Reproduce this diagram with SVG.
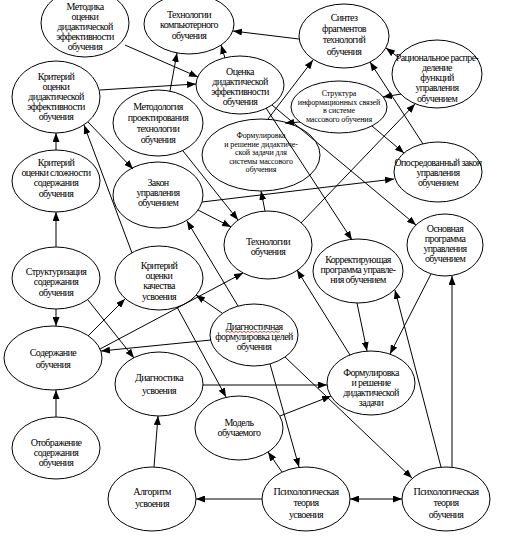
<svg xmlns="http://www.w3.org/2000/svg" width="514" height="538" viewBox="0 0 514 538">
<style>
.n ellipse{fill:#fff;stroke:#000;stroke-width:1}
text{font-family:"Liberation Serif","Times New Roman",serif;font-size:10px;letter-spacing:-0.6px;text-anchor:middle;fill:#000}
.s text{font-size:8px;letter-spacing:-0.1px}
#edges line{stroke:#000;stroke-width:1;marker-end:url(#a)}
</style>
<defs>
<marker id="a" viewBox="0 0 9 7" refX="9" refY="3.5" markerWidth="9" markerHeight="7" markerUnits="userSpaceOnUse" orient="auto-start-reverse"><path d="M0,0 L9,3.5 L0,7 z" fill="#000"/></marker>
</defs>
<rect width="514" height="538" fill="#fff"/>
<g id="n1" class="n"><ellipse cx="85" cy="23" rx="44" ry="34"/><text x="85" y="10">Методика</text><text x="85" y="20">оценки</text><text x="85" y="30">дидактической</text><text x="85" y="40">эффективности</text><text x="85" y="50">обучения</text></g>
<g id="n2" class="n"><ellipse cx="189" cy="24" rx="45" ry="30"/><text x="189" y="18">Технологии</text><text x="189" y="28">компьютерного</text><text x="189" y="39">обучения</text></g>
<g id="n3" class="n"><ellipse cx="344" cy="36" rx="45" ry="32"/><text x="344" y="21">Синтез</text><text x="344" y="32">фрагментов</text><text x="344" y="43">технологий</text><text x="344" y="55">обучения</text></g>
<g id="n4" class="n"><ellipse cx="240" cy="85" rx="44" ry="29"/><text x="240" y="75">Оценка</text><text x="240" y="85">дидактической</text><text x="240" y="95">эффективности</text><text x="240" y="105">обучения</text></g>
<g id="n5" class="n"><ellipse cx="437" cy="74" rx="45" ry="34"/><text x="437" y="61">Рациональное распре-</text><text x="437" y="71">деление</text><text x="437" y="81">функций</text><text x="437" y="91">управления</text><text x="437" y="102">обучением</text></g>
<g id="n6" class="n"><ellipse cx="56" cy="97" rx="44" ry="36"/><text x="56" y="80">Критерий</text><text x="56" y="90">оценки</text><text x="56" y="100">дидактической</text><text x="56" y="110">эффективности</text><text x="56" y="120">обучения</text></g>
<g id="n7" class="n"><ellipse cx="158" cy="123" rx="45" ry="33"/><text x="158" y="110">Методология</text><text x="158" y="121">проектирования</text><text x="158" y="132">технологии</text><text x="158" y="143">обучения</text></g>
<g id="n8" class="n s"><ellipse cx="339" cy="107" rx="48" ry="26"/><text x="339" y="96">Структура</text><text x="339" y="104.5">информационных связей</text><text x="339" y="113">в системе</text><text x="339" y="121.5">массового обучения</text></g>
<g id="n9" class="n s"><ellipse cx="261" cy="155" rx="59" ry="36"/><text x="261" y="138">Формулировка</text><text x="261" y="146.5">и решение дидактиче-</text><text x="261" y="155">ской задачи для</text><text x="261" y="163.5">системы массового</text><text x="261" y="172">обучения</text></g>
<g id="n10" class="n"><ellipse cx="438" cy="172" rx="44" ry="30"/><text x="438" y="166">Опосредованный закон</text><text x="438" y="176">управления</text><text x="438" y="186">обучением</text></g>
<g id="n11" class="n"><ellipse cx="158" cy="195" rx="45" ry="33"/><text x="158" y="186">Закон</text><text x="158" y="196">управления</text><text x="158" y="206">обучением</text></g>
<g id="n12" class="n"><ellipse cx="56" cy="181" rx="44" ry="31"/><text x="56" y="166">Критерий</text><text x="56" y="176">оценки сложности</text><text x="56" y="186">содержания</text><text x="56" y="197">обучения</text></g>
<g id="n13" class="n"><ellipse cx="268" cy="245" rx="44" ry="34"/><text x="268" y="245">Технологии</text><text x="268" y="255">обучения</text></g>
<g id="n14" class="n"><ellipse cx="445" cy="245" rx="38" ry="31"/><text x="445" y="232">Основная</text><text x="445" y="242">программа</text><text x="445" y="252">управления</text><text x="445" y="262">обучением</text></g>
<g id="n15" class="n"><ellipse cx="358" cy="271" rx="45" ry="32"/><text x="358" y="263">Корректирующая</text><text x="358" y="273">программа управле-</text><text x="358" y="283">ния обучением</text></g>
<g id="n16" class="n"><ellipse cx="56" cy="278" rx="44" ry="31"/><text x="56" y="275">Структуризация</text><text x="56" y="285">содержания</text><text x="56" y="296">обучения</text></g>
<g id="n17" class="n"><ellipse cx="159" cy="278" rx="44" ry="32"/><text x="159" y="269">Критерий</text><text x="159" y="279">оценки</text><text x="159" y="289">качества</text><text x="159" y="300">усвоения</text></g>
<g id="n18" class="n"><ellipse cx="53" cy="358" rx="49" ry="32"/><text x="53" y="356">Содержание</text><text x="53" y="368">обучения</text></g>
<g id="n19" class="n"><ellipse cx="159" cy="384" rx="44" ry="32"/><text x="159" y="381">Диагностика</text><text x="159" y="394">усвоения</text></g>
<g id="n20" class="n"><ellipse cx="254" cy="335" rx="44" ry="31"/><text x="254" y="330">Диагностичная</text><path d="M226,332.5 l2,-1.2 l2,1.2 l2,-1.2 l2,1.2 l2,-1.2 l2,1.2 l2,-1.2 l2,1.2 l2,-1.2 l2,1.2 l2,-1.2 l2,1.2 l2,-1.2 l2,1.2 l2,-1.2 l2,1.2 l2,-1.2 l2,1.2 l2,-1.2 l2,1.2 l2,-1.2 l2,1.2 l2,-1.2 l2,1.2 l2,-1.2 l2,1.2 l2,-1.2" fill="none" stroke="#d02020" stroke-width="0.8"/><text x="254" y="340">формулировка целей</text><text x="254" y="350">обучения</text></g>
<g id="n21" class="n"><ellipse cx="371" cy="383" rx="44" ry="32"/><text x="371" y="376">Формулировка</text><text x="371" y="386">и решение</text><text x="371" y="396">дидактической</text><text x="371" y="406">задачи</text></g>
<g id="n22" class="n"><ellipse cx="239" cy="428" rx="44" ry="32"/><text x="239" y="426">Модель</text><text x="239" y="436">обучаемого</text></g>
<g id="n23" class="n"><ellipse cx="56" cy="448" rx="44" ry="31"/><text x="56" y="446">Отображение</text><text x="56" y="456">содержания</text><text x="56" y="466">обучения</text></g>
<g id="n24" class="n"><ellipse cx="152" cy="499" rx="44" ry="32"/><text x="152" y="495">Алгоритм</text><text x="152" y="507">усвоения</text></g>
<g id="n25" class="n"><ellipse cx="306" cy="499" rx="44" ry="32"/><text x="306" y="495">Психологическая</text><text x="306" y="506">теория</text><text x="306" y="518">усвоения</text></g>
<g id="n26" class="n"><ellipse cx="446" cy="499" rx="44" ry="32"/><text x="446" y="495">Психологическая</text><text x="446" y="506">теория</text><text x="446" y="518">обучения</text></g>
<g id="edges">
<line x1="125" y1="45" x2="198" y2="77"/>
<line x1="100" y1="90" x2="196" y2="84"/>
<line x1="225" y1="58" x2="221" y2="45"/>
<line x1="299" y1="39" x2="233" y2="31"/>
<line x1="170" y1="91" x2="177" y2="53"/>
<line x1="398" y1="57" x2="386" y2="48"/>
<line x1="401" y1="94" x2="383" y2="97"/>
<line x1="301" y1="223" x2="415" y2="104"/>
<line x1="423" y1="144" x2="370" y2="62"/>
<line x1="268" y1="119" x2="313" y2="60"/>
<line x1="300" y1="122" x2="285" y2="123"/>
<line x1="372" y1="126" x2="404" y2="153"/>
<line x1="266" y1="108" x2="352" y2="240"/>
<line x1="272" y1="105" x2="416" y2="225"/>
<line x1="56" y1="150" x2="56" y2="133"/>
<line x1="132" y1="253" x2="84" y2="125"/>
<line x1="88" y1="122" x2="133" y2="169"/>
<line x1="183" y1="151" x2="238" y2="220"/>
<line x1="198" y1="210" x2="231" y2="227"/>
<line x1="202" y1="202" x2="394" y2="179"/>
<line x1="265" y1="211" x2="261" y2="191"/>
<line x1="222" y1="313" x2="196" y2="295"/>
<line x1="211" y1="340" x2="101" y2="351"/>
<line x1="238" y1="306" x2="187" y2="221"/>
<line x1="270" y1="364" x2="299" y2="467"/>
<line x1="285" y1="357" x2="412" y2="478"/>
<line x1="88" y1="336" x2="125" y2="299"/>
<line x1="100" y1="349" x2="243" y2="273"/>
<line x1="56" y1="309" x2="56" y2="326"/>
<line x1="88" y1="300" x2="134" y2="358"/>
<line x1="56" y1="247" x2="56" y2="212"/>
<line x1="56" y1="417" x2="56" y2="390"/>
<line x1="154" y1="467" x2="158" y2="416"/>
<line x1="262" y1="499" x2="196" y2="499"/>
<line x1="350" y1="499" x2="402" y2="499" marker-start="url(#a)"/>
<line x1="282" y1="472" x2="268" y2="452"/>
<line x1="280" y1="416" x2="331" y2="396"/>
<line x1="203" y1="385" x2="327" y2="385"/>
<line x1="177" y1="307" x2="226" y2="397"/>
<line x1="350" y1="355" x2="297" y2="270"/>
<line x1="357" y1="303" x2="367" y2="351"/>
<line x1="431" y1="274" x2="390" y2="354"/>
<line x1="452" y1="467" x2="452" y2="276"/>
<line x1="441" y1="467" x2="395" y2="290"/>
</g>
</svg>
